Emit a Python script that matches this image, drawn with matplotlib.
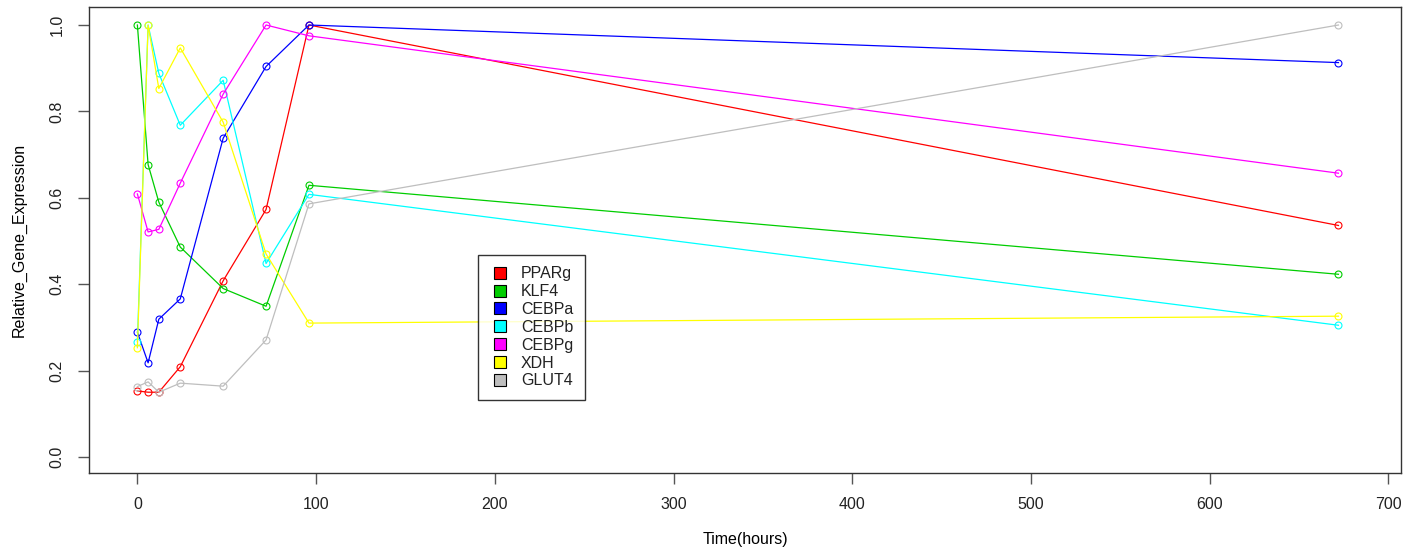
import matplotlib
matplotlib.use("Agg")
import matplotlib.pyplot as plt
from matplotlib.lines import Line2D

plt.rcParams['font.family'] = ['Liberation Sans', 'DejaVu Sans']

hours = [0, 6, 12, 24, 48, 72, 96, 672]
genes = ["PPARg", "KLF4", "CEBPa", "CEBPb", "CEBPg", "XDH", "GLUT4"]
colors = ["#FF0000", "#00CD00", "#0000FF", "#00FFFF", "#FF00FF", "#FFFF00", "#BEBEBE"]

pparg = [0.153, 0.150, 0.150, 0.209, 0.408, 0.573, 1.0, 0.536]
klf4 = [1.0, 0.677, 0.590, 0.486, 0.390, 0.349, 0.629, 0.423]
cebpa = [0.289, 0.218, 0.319, 0.366, 0.738, 0.904, 1.0, 0.913]
cebpb = [0.267, 1.0, 0.888, 0.768, 0.872, 0.448, 0.608, 0.305]
cebpg = [0.609, 0.521, 0.527, 0.634, 0.840, 1.0, 0.975, 0.657]
xdh = [0.253, 1.0, 0.853, 0.947, 0.775, 0.470, 0.310, 0.326]
glut4 = [0.163, 0.174, 0.150, 0.171, 0.164, 0.271, 0.586, 1.0]
series = [pparg, klf4, cebpa, cebpb, cebpg, xdh, glut4]

fig = plt.figure(figsize=(14.11, 5.48), dpi=100)
ax = fig.add_axes([89.3/1411, 1 - 473/548, (1401 - 89.3)/1411, (473 - 7.3)/548])

for vals, col in zip(series, colors):
    ax.plot(hours, vals, color=col, lw=0.9, marker='o', ms=5,
            mfc='none', mec=col, mew=0.8)

ax.set_xlim(-26.9, 707)
ax.set_ylim(-0.037, 1.041)
ax.set_xticks(range(0, 701, 100))
ax.set_yticks([0.0, 0.2, 0.4, 0.6, 0.8, 1.0])
ax.set_yticklabels(["0.0", "0.2", "0.4", "0.6", "0.8", "1.0"], rotation=90, va='center')
ax.tick_params(axis='both', direction='out', length=8, width=1, color='#555555',
               labelsize=11.5, labelcolor='#222222', pad=9)
ax.tick_params(axis='y', pad=10)
for s in ax.spines.values():
    s.set_color('#333333')
    s.set_linewidth(1)

ax.set_xlabel("Time(hours)", fontsize=11.5, labelpad=15)
ax.set_ylabel("Relative_Gene_Expression", fontsize=11.5, labelpad=16)

handles = [Line2D([], [], ls='none', marker='s', ms=8.5, mfc=c, mec='black', mew=0.8)
           for c in colors]
leg = ax.legend(handles, genes, loc='upper left', bbox_to_anchor=(0.2963, 0.468),
                borderaxespad=0, fontsize=11.5, frameon=True, fancybox=False,
                edgecolor='black', handlelength=1.4, handletextpad=0.6,
                labelspacing=0.18, borderpad=0.7)
leg.get_frame().set_linewidth(1)
for t in leg.get_texts():
    t.set_color('#222222')

fig.savefig("out.png", dpi=100)
